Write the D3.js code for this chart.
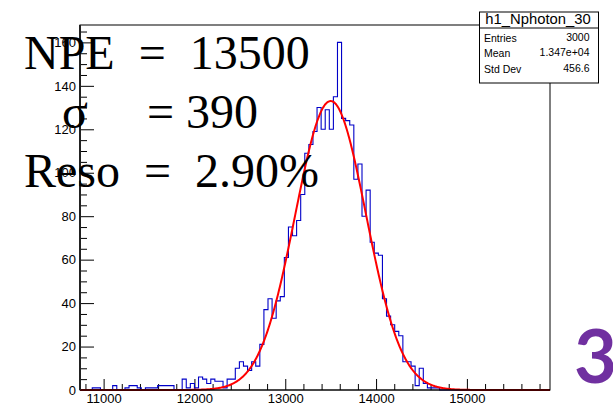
<!DOCTYPE html>
<html>
<head>
<meta charset="utf-8">
<script src="https://cdn.jsdelivr.net/npm/d3@7"></script>
<style>
  html, body { margin: 0; padding: 0; background: #fff; overflow: hidden; }
  svg { display: block; }
  .pre { white-space: pre; }
</style>
</head>
<body>
<svg id="chart" width="613" height="404"></svg>
<script>
// h1_Nphoton_30: 115 bins, 45 photons wide, starting at 10740
const binStart = 10740;
const binWidth = 45;
const binCounts = [
  0, 0, 0, 1, 1, 0, 0, 0, 2, 0,
  0, 1, 2, 2, 1, 0, 1, 1, 1, 2,
  2, 2, 2, 0, 0, 5, 1, 3, 1, 6,
  5, 3, 5, 4, 4, 1, 5, 5, 10, 13,
  11, 9, 13, 11, 21, 37, 42, 33, 41, 43,
  61, 75, 71, 78, 90, 109, 113, 119, 130, 120,
  129, 120, 135, 160, 125, 124, 122, 97, 104, 80,
  92, 68, 63, 62, 42, 34, 30, 27, 25, 13,
  13, 11, 2, 10, 3, 1, 1, 1, 0, 0,
  0, 0, 0, 0, 0, 0, 0, 0, 0, 0,
  0, 0, 0, 0, 0, 0, 0, 0, 0, 0,
  0, 0, 0, 0, 0
];

// Axis ticks
const xTickValues = [11000, 12000, 13000, 14000, 15000];
const xMinorStep = 200;
const yTickValues = [0, 20, 40, 60, 80, 100, 120, 140, 160];
const yMinorStep = 5;
const yMax = 168;

// Gaussian fit result
const fitMean = 13500;
const fitSigma = 390;
const fitAmplitude = 133;

// Statistics box
const statsTitle = "h1_Nphoton_30";
const statsNames = ["Entries", "Mean", "Std Dev"];
const statsValues = ["3000", "1.347e+04", "456.6"];

// Fit summary text
const npeText = "NPE  =  13500";
const sigmaSymbol = "\u03C3";
const sigmaText = "= 390";
const resoText = "Reso  =  2.90%";
const panelNumber = "3";

const svg = d3.select("#chart");
const frame = { left: 80, right: 550, top: 25, bottom: 390 };

const xMax = binStart + binWidth * binCounts.length;
const x = d3.scaleLinear().domain([binStart, xMax]).range([frame.left, frame.right]);
const y = d3.scaleLinear().domain([0, yMax]).range([frame.bottom, frame.top]);

svg.append("rect").attr("width", 613).attr("height", 404).attr("fill", "#fff");

svg.append("defs").append("clipPath").attr("id", "frameClip")
  .append("rect")
  .attr("x", frame.left).attr("y", frame.top - 1)
  .attr("width", frame.right - frame.left)
  .attr("height", frame.bottom - frame.top + 2);

// Minor and major ticks
const yMinor = d3.range(0, yMax + 0.001, yMinorStep).filter(v => v % 20 !== 0);
const xMinor = d3.range(Math.ceil(binStart / xMinorStep) * xMinorStep, xMax, xMinorStep)
  .filter(v => v % 1000 !== 0);

const tickStyle = g => {
  g.select(".domain").remove();
  g.selectAll(".tick line").attr("stroke", "#000").attr("stroke-width", 1);
  g.selectAll("text").attr("fill", "#000")
    .attr("font-family", "'Liberation Sans', Arial, sans-serif")
    .attr("font-size", 13);
};

svg.append("g").attr("transform", `translate(${frame.left},0)`)
  .call(d3.axisLeft(y).tickValues(yMinor).tickSize(-7).tickFormat(""))
  .call(tickStyle);
svg.append("g").attr("transform", `translate(${frame.left},0)`)
  .call(d3.axisLeft(y).tickValues(yTickValues).tickSize(-14).tickPadding(4).tickFormat(d3.format("d")))
  .call(tickStyle);

svg.append("g").attr("transform", `translate(0,${frame.bottom})`)
  .call(d3.axisBottom(x).tickValues(xMinor).tickSize(-6).tickFormat(""))
  .call(tickStyle);
svg.append("g").attr("transform", `translate(0,${frame.bottom})`)
  .call(d3.axisBottom(x).tickValues(xTickValues).tickSize(-11).tickPadding(4).tickFormat(d3.format("d")))
  .call(tickStyle);

// Histogram outline
const stepPoints = binCounts.map((c, i) => [binStart + i * binWidth, c]);
stepPoints.push([xMax, binCounts[binCounts.length - 1]]);
const stepLine = d3.line().x(d => x(d[0])).y(d => y(d[1])).curve(d3.curveStepAfter);
svg.append("path")
  .attr("clip-path", "url(#frameClip)")
  .attr("d", stepLine(stepPoints))
  .attr("fill", "none")
  .attr("stroke", "#0000c8")
  .attr("stroke-width", 1.1);

// Gaussian fit curve
const gauss = v => fitAmplitude * Math.exp(-0.5 * ((v - fitMean) / fitSigma) ** 2);
const fitSamples = d3.range(0, 801).map(i => binStart + (xMax - binStart) * i / 800);
svg.append("path")
  .attr("clip-path", "url(#frameClip)")
  .attr("d", d3.line().x(v => x(v)).y(v => y(gauss(v)))(fitSamples))
  .attr("fill", "none")
  .attr("stroke", "#ff0000")
  .attr("stroke-width", 2);

// Frame, drawn over the curve's tails along the baseline
svg.append("rect")
  .attr("x", frame.left).attr("y", frame.top)
  .attr("width", frame.right - frame.left)
  .attr("height", frame.bottom - frame.top)
  .attr("fill", "none").attr("stroke", "#000").attr("stroke-width", 1);
svg.append("line")
  .attr("x1", frame.left).attr("x2", frame.right)
  .attr("y1", frame.bottom).attr("y2", frame.bottom)
  .attr("stroke", "#000").attr("stroke-opacity", 0.45).attr("stroke-width", 2);
svg.append("line")
  .attr("x1", frame.left).attr("x2", frame.left)
  .attr("y1", frame.top).attr("y2", frame.bottom)
  .attr("stroke", "#222").attr("stroke-width", 2);

// Statistics box
const box = { x: 479.5, y: 12, w: 119, h: 71, titleH: 16 };
const stats = svg.append("g");
stats.append("rect")
  .attr("x", box.x).attr("y", box.y).attr("width", box.w).attr("height", box.h)
  .attr("fill", "#fff").attr("stroke", "#000").attr("stroke-width", 1);
stats.append("line")
  .attr("x1", box.x).attr("x2", box.x + box.w)
  .attr("y1", box.y + box.titleH).attr("y2", box.y + box.titleH)
  .attr("stroke", "#000").attr("stroke-width", 1);
stats.append("text")
  .attr("x", box.x + box.w / 2 - 1).attr("y", box.y + 12)
  .attr("text-anchor", "middle")
  .attr("font-family", "'Liberation Sans', Arial, sans-serif")
  .attr("font-size", 14.8)
  .text(statsTitle);
statsNames.forEach((name, i) => {
  const base = box.y + 29.5 + i * 15.5;
  stats.append("text")
    .attr("x", box.x + 4.5).attr("y", base)
    .attr("font-family", "'Liberation Sans', Arial, sans-serif")
    .attr("font-size", 10.5)
    .text(name);
  stats.append("text")
    .attr("x", box.x + box.w - 9).attr("y", base - 1)
    .attr("text-anchor", "end")
    .attr("font-family", "'Liberation Sans', Arial, sans-serif")
    .attr("font-size", 10.5)
    .text(statsValues[i]);
});

// Fit summary
const serif = "'Liberation Serif', 'Times New Roman', serif";
const summary = svg.append("g")
  .attr("font-family", serif)
  .attr("font-size", 48)
  .attr("fill", "#000");
summary.append("text").attr("class", "pre").attr("x", 24).attr("y", 69).text(npeText);
summary.append("text").attr("x", 62).attr("y", 127.5).text(sigmaSymbol);
summary.append("text").attr("class", "pre").attr("x", 147).attr("y", 127.5).text(sigmaText);
summary.append("text").attr("class", "pre").attr("x", 24).attr("y", 187).text(resoText);

// Panel number
svg.append("text")
  .attr("x", 574).attr("y", 383)
  .attr("font-family", "Lato, 'Open Sans', sans-serif")
  .attr("font-weight", "bold")
  .attr("font-size", 74)
  .attr("fill", "#7030a0")
  .text(panelNumber);
</script>
</body>
</html>
